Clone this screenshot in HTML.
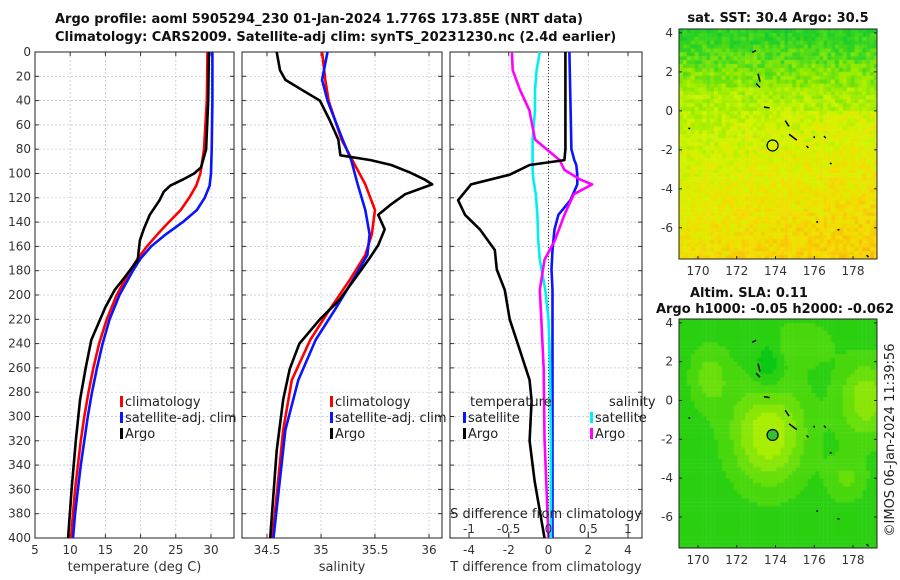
<!DOCTYPE html>
<html><head><meta charset="utf-8">
<style>
html,body{margin:0;padding:0;background:#fff;}
#root{position:relative;width:900px;height:580px;overflow:hidden;font-family:"Liberation Sans","DejaVu Sans",sans-serif;}
svg text{font-family:"DejaVu Sans","Liberation Sans",sans-serif;}
canvas{position:absolute;}
</style></head>
<body>
<div id="root">
<canvas id="sstMap" width="198" height="230" style="left:679px;top:29px;"></canvas>
<canvas id="slaMap" width="198" height="229" style="left:679px;top:319px;"></canvas>
<svg id="chart" width="900" height="580" style="position:absolute;left:0;top:0"></svg>
</div>
<script>
// ---- data ----
const tempDepthClim=[0,40,80,100,110,120,130,140,150,160,170,180,200,220,240,260,280,300,320,340,360,380,400];
const tempClim=[29.5,29.4,29.0,28.5,27.9,26.9,25.7,24.0,22.4,20.9,19.6,18.5,16.6,15.2,14.1,13.3,12.6,12.0,11.5,11.1,10.7,10.4,10.1];
const tempSat=[30.2,30.2,30.1,30.0,29.8,29.1,28.0,26.0,23.6,21.5,20.0,18.9,17.0,15.6,14.6,13.8,13.1,12.5,12.0,11.5,11.1,10.7,10.4];
const tempDepthArgo=[0,40,80,95,100,105,110,115,122,134,145,155,165,171,185,196,210,237,260,286,320,360,400];
const tempArgo=[29.7,29.6,29.3,28.6,27.6,26.0,24.2,23.3,22.7,21.3,20.5,19.9,19.7,19.6,17.8,16.3,15.0,13.0,12.2,11.4,10.8,10.2,9.7];

const salDepthArgo=[0,15,23,31,40,56,72,85,89,93,99,105,109,117,126,134,146,159,171,187,204,220,240,261,286,328,400];
const salArgo=[34.59,34.62,34.67,34.82,34.99,35.08,35.16,35.18,35.46,35.65,35.82,35.96,36.03,35.78,35.64,35.53,35.59,35.53,35.44,35.31,35.17,34.99,34.80,34.71,34.65,34.59,34.53];
const salDepthClim=[0,23,40,56,72,89,109,130,150,167,187,212,237,270,311,400];
const salClim=[35.01,35.04,35.07,35.13,35.19,35.29,35.41,35.50,35.47,35.41,35.27,35.08,34.90,34.73,34.65,34.55];
const salSat=[35.06,35.01,35.06,35.13,35.20,35.28,35.34,35.41,35.45,35.43,35.30,35.13,34.95,34.79,34.67,34.56];

const diffDepthT=[0,80,89,93,101,109,122,134,146,163,179,196,220,245,270,287,320,353,400];
const diffTSat=[1.05,1.15,1.3,1.4,1.45,1.45,1.1,0.5,0.3,0.2,0.15,0.2,0.2,0.2,0.2,0.2,0.2,0.2,0.2];
const diffTArgo=[0.85,0.85,0.8,-0.95,-1.95,-3.9,-4.55,-4.2,-3.45,-2.7,-2.6,-2.2,-1.95,-1.45,-0.95,-0.85,-0.95,-0.7,-0.2];
const diffDepthS=[0,15,31,48,72,89,97,105,109,117,134,155,171,196,220,261,318,400];
const diffSSat=[-0.11,-0.15,-0.17,-0.17,-0.2,-0.2,-0.2,-0.19,-0.18,-0.16,-0.14,-0.13,-0.11,-0.04,0.0,0.02,0.03,0.03];
const diffSArgo=[-0.46,-0.45,-0.36,-0.24,-0.17,0.14,0.2,0.4,0.55,0.32,0.2,0.08,-0.05,-0.11,-0.09,-0.06,-0.05,0.0];

const depthTicks=[0,20,40,60,80,100,120,140,160,180,200,220,240,260,280,300,320,340,360,380,400];
const tempTicks=[5,10,15,20,25,30];
const salTicks=[34.5,35,35.5,36];
const tdiffTicks=[-4,-2,0,2,4];
const sdiffTicks=[-1,-0.5,0,0.5,1];
const sdiffLabels=["-1","-0.5","0","0.5","1"];
const lonTicks=[170,172,174,176,178];
const latTicks=[4,2,0,-2,-4,-6];

// ---- helpers ----
const NS="http://www.w3.org/2000/svg";
const svg=document.getElementById('chart');
function el(tag,attrs,parent){const e=document.createElementNS(NS,tag);for(const k in attrs)e.setAttribute(k,attrs[k]);(parent||svg).appendChild(e);return e;}
function txt(x,y,s,attrs,parent){const t=el('text',Object.assign({x:x,y:y,'font-size':12,fill:'#333'},attrs||{}),parent);t.textContent=s;return t;}
const Y0=52,Y1=538;
const yD=d=>Y0+(d/400)*(Y1-Y0);
function lin(d0,d1,r0,r1){return v=>r0+(v-d0)/(d1-d0)*(r1-r0);}

function panel(name,x0,x1,xs,ticks,labels,xlabel,showY){
  const g=el('g',{});
  
  
  depthTicks.forEach(d=>{el('line',{x1:x0,x2:x1,y1:yD(d),y2:yD(d),stroke:'#b8c4dc','stroke-width':0.7,'stroke-dasharray':'2,2'},g);});
  ticks.forEach(v=>{el('line',{x1:xs(v),x2:xs(v),y1:Y0,y2:Y1,stroke:'#b8c4dc','stroke-width':0.7,'stroke-dasharray':'2,2'},g);});
  depthTicks.forEach(d=>{el('line',{x1:x0,x2:x0+4,y1:yD(d),y2:yD(d),stroke:'#333'},g);el('line',{x1:x1,x2:x1-4,y1:yD(d),y2:yD(d),stroke:'#333'},g);
    if(showY){const t=txt(x0-4,yD(d)+4,String(d),{'text-anchor':'end'},g);}});
  ticks.forEach((v,i)=>{el('line',{x1:xs(v),x2:xs(v),y1:Y1,y2:Y1-4,stroke:'#333'},g);el('line',{x1:xs(v),x2:xs(v),y1:Y0,y2:Y0+4,stroke:'#333'},g);
    const t=txt(xs(v),Y1+16,labels[i],{'text-anchor':'middle'},g);});
  el('rect',{x:x0,y:Y0,width:x1-x0,height:Y1-Y0,fill:'none',stroke:'#222','stroke-width':1},g);
  const xl=txt((x0+x1)/2,Y1+33,xlabel,{'text-anchor':'middle','font-size':13},g);
  
  return g;
}
function series(name,depths,vals,xs,color,g){
  const pts=depths.map((d,i)=>xs(vals[i]).toFixed(1)+','+yD(d).toFixed(1)).join(' ');
  const p=el('polyline',{points:pts,fill:'none',stroke:color,'stroke-width':2.6,'stroke-linejoin':'round'},g);
  
  
}
function legend(x,y,color,label,g){
  el('rect',{x:x,y:y-10,width:3,height:11,fill:color},g);
  const t=txt(x+5,y,label,{'font-size':13,fill:'#222'},g);
  
  
}

const t1=txt(55,23,'Argo profile: aoml 5905294_230 01-Jan-2024 1.776S 173.85E (NRT data)',{'font-size':13,'font-weight':'bold',fill:'#111'});

const t2=txt(55,41,'Climatology: CARS2009. Satellite-adj clim: synTS_20231230.nc (2.4d earlier)',{'font-size':13,'font-weight':'bold',fill:'#111'});


const xT=lin(5,30,35,211);
const g1=panel('temperature-panel',35,234,xT,tempTicks,tempTicks.map(String),'temperature (deg C)',true);
series('temp-climatology-line',tempDepthClim,tempClim,xT,'#ff0000',g1);
series('temp-satellite-line',tempDepthClim,tempSat,xT,'#0a14ff',g1);
series('temp-argo-line',tempDepthArgo,tempArgo,xT,'#000',g1);
legend(120,406,'#ff0000','climatology',g1);
legend(120,422,'#0a14ff','satellite-adj. clim',g1);
legend(120,438,'#000','Argo',g1);

const xS=lin(34.5,36,267,429);
const g2=panel('salinity-panel',242,442,xS,salTicks,['34.5','35','35.5','36'],'salinity',false);
series('sal-climatology-line',salDepthClim,salClim,xS,'#ff0000',g2);
series('sal-satellite-line',salDepthClim,salSat,xS,'#0a14ff',g2);
series('sal-argo-line',salDepthArgo,salArgo,xS,'#000',g2);
legend(330,406,'#ff0000','climatology',g2);
legend(330,422,'#0a14ff','satellite-adj. clim',g2);
legend(330,438,'#000','Argo',g2);

const xTd=lin(-4,4,469,628);
const xSd=lin(-1,1,469,628);
const g3=panel('difference-panel',450,642,xTd,tdiffTicks,tdiffTicks.map(String),'T difference from climatology',false);
el('line',{x1:xTd(0),x2:xTd(0),y1:Y0,y2:Y1,stroke:'#333','stroke-width':1,'stroke-dasharray':'1,2'},g3);
series('tdiff-satellite-line',diffDepthT,diffTSat,xTd,'#0a14ff',g3);
series('sdiff-satellite-line',diffDepthS,diffSSat,xSd,'#00f0f0',g3);
series('sdiff-argo-line',diffDepthS,diffSArgo,xSd,'#ff00ff',g3);
series('tdiff-argo-line',diffDepthT,diffTArgo,xTd,'#000',g3);
txt(470,406,'temperature',{'font-size':13,fill:'#222'},g3);
txt(609,406,'salinity',{'font-size':13,fill:'#222'},g3);
legend(463,422,'#0a14ff','satellite',g3);
legend(463,438,'#000','Argo',g3);
legend(590,422,'#00f0f0','satellite',g3);
legend(590,438,'#ff00ff','Argo',g3);
const sl=txt(546,518,'S difference from climatology',{'text-anchor':'middle','font-size':13,fill:'#222'},g3);

sdiffTicks.forEach((v,i)=>{el('line',{x1:xSd(v),x2:xSd(v),y1:Y1,y2:Y1-6,stroke:'#333'},g3);
  const t=txt(xSd(v),533,sdiffLabels[i],{'text-anchor':'middle'},g3);});

// ---- maps ----
const mapX0=679,mapX1=877;
const lonS=lin(170,178,698,853);
function mapFrame(name,y0,y1,latTop,latBot,filled){
  const g=el('g',{});
  
  
  const latS=v=>y0+(latTop-v)/(latTop-latBot)*(y1-y0);
  el('rect',{x:mapX0,y:y0,width:mapX1-mapX0,height:y1-y0,fill:'none',stroke:'#222'},g);
  lonTicks.forEach(v=>{el('line',{x1:lonS(v),x2:lonS(v),y1:y1,y2:y1-3,stroke:'#222'},g);txt(lonS(v),y1+16,String(v),{'text-anchor':'middle'},g);});
  latTicks.forEach(v=>{el('line',{x1:mapX0,x2:mapX0+3,y1:latS(v),y2:latS(v),stroke:'#222'},g);el('line',{x1:mapX1,x2:mapX1-3,y1:latS(v),y2:latS(v),stroke:'#222'},g);txt(mapX0-6,latS(v)+4,String(v),{'text-anchor':'end'},g);});
  const isl=[[173.0,3.1,172.8,3.0],[173.1,1.9,173.2,1.5],[173.0,1.4,173.2,1.2],[173.4,0.2,173.7,0.15],[174.5,-0.5,174.7,-0.8],[174.7,-1.2,175.1,-1.5],[175.6,-1.8,175.7,-1.9],[176.5,-1.3,176.6,-1.4],[176.0,-1.3,176.0,-1.4],[169.5,-0.9,169.6,-0.9],[177.2,-6.1,177.3,-6.1],[178.7,-7.4,178.8,-7.5],[176.1,-5.7,176.2,-5.7],[176.8,-2.7,176.9,-2.7]];
  isl.forEach(a=>el('line',{x1:lonS(a[0]),y1:latS(a[1]),x2:lonS(a[2]),y2:latS(a[3]),stroke:'#000','stroke-width':1.5},g));
  const c=el('circle',{cx:lonS(173.85),cy:latS(-1.776),r:5.5,fill:filled?'#30c030':'none',stroke:'#000','stroke-width':1.2},g);
  
  return g;
}
mapFrame('sst-map',29,259,4.2,-7.6,false);
mapFrame('sla-map',319,548,4.2,-7.6,true);
const mt1=txt(778,22,'sat. SST: 30.4 Argo: 30.5',{'text-anchor':'middle','font-size':13,'font-weight':'bold',fill:'#111'});

const mt2=txt(690,297,'Altim. SLA: 0.11',{'font-size':13,'font-weight':'bold',fill:'#111'});

const mt3=txt(775,313,'Argo h1000: -0.05 h2000: -0.062',{'text-anchor':'middle','font-size':13,'font-weight':'bold',fill:'#111'});

const cr=txt(0,0,'©IMOS 06-Jan-2024 11:39:56',{'text-anchor':'middle','font-size':13,fill:'#222',transform:'translate(894,440) rotate(-90)'});


// background imagery (texture)
function h(i,j){const s=Math.sin(i*12.9898+j*78.233)*43758.5453;return s-Math.floor(s);}
function mix(a,b,t){return a.map((v,k)=>Math.round(v+(b[k]-v)*t));}
(function(){
  const ctx=document.getElementById('sstMap').getContext('2d');
  const cs=3.9;
  const stops=[[10,200,50],[60,215,30],[150,235,0],[210,245,0],[245,220,0],[250,180,10]];
  function col(v){v=Math.max(0,Math.min(0.999,v));const p=v*5,i=Math.floor(p);return mix(stops[i],stops[i+1],p-i);}
  for(let j=0;j<60;j++)for(let i=0;i<52;i++){
    const fy=j/59,fx=i/51;
    let v;
    if(fy<0.25) v=0.12+fy*1.2;
    else v=0.45+(fy-0.25)*0.45+(fy>0.35?fx*0.12:0);
    v+=(h(i,j)-0.5)*0.22;
    const c=col(v);ctx.fillStyle='rgb('+c+')';ctx.fillRect(i*cs,j*cs,cs+0.5,cs+0.5);
  }
})();
(function(){
  const ctx=document.getElementById('slaMap').getContext('2d');
  const cs=3.9;
  const dark=[10,200,20],lite=[200,245,0];
  for(let j=0;j<59;j++)for(let i=0;i<51;i++){
    const x=i/50,y=j/58;
    let v=0.15+0.75*Math.exp(-((x-0.45)**2/0.035+(y-0.5)**2/0.05))+0.55*Math.exp(-((x-0.95)**2/0.02+(y-0.35)**2/0.03))+0.35*Math.exp(-((x-0.15)**2/0.01+(y-0.25)**2/0.02))-0.3*Math.exp(-((x-0.45)**2/0.006+(y-0.2)**2/0.02))+0.3*Math.exp(-((x-0.85)**2/0.01+(y-0.7)**2/0.01))+0.25*Math.exp(-((x-0.6)**2/0.03+(y-0.1)**2/0.01));
    v=Math.round(v*6)/6;
    const c=mix(dark,lite,Math.max(0,Math.min(1,v)));ctx.fillStyle='rgb('+c+')';ctx.fillRect(i*cs,j*cs,cs+0.5,cs+0.5);
  }
})();
</script>
</body></html>
